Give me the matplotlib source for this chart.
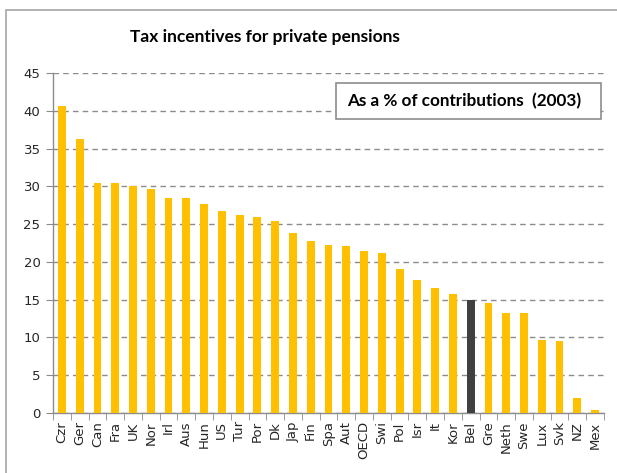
import numpy as np
import matplotlib.pyplot as plt
from matplotlib.patches import Rectangle

# Tax incentives for private pensions, as a % of contributions (2003)
countries = ["Czr", "Ger", "Can", "Fra", "UK", "Nor", "Irl", "Aus", "Hun", "US",
             "Tur", "Por", "Dk", "Jap", "Fin", "Spa", "Aut", "OECD", "Swi", "Pol",
             "Isr", "It", "Kor", "Bel", "Gre", "Neth", "Swe", "Lux", "Svk", "NZ", "Mex"]
values = [40.6, 36.2, 30.5, 30.4, 30.0, 29.6, 28.5, 28.5, 27.6, 26.7,
          26.2, 26.0, 25.4, 23.8, 22.7, 22.3, 22.1, 21.4, 21.2, 19.0,
          17.6, 16.5, 15.7, 15.0, 14.6, 13.2, 13.2, 9.7, 9.5, 2.0, 0.4]
highlight = "Bel"

yticks = np.arange(0, 50, 5)

orange = "#FFC000"
dark = "#404040"
grey = "#8C8C8C"

fig = plt.figure(figsize=(6.17, 4.73), dpi=100)
fig.patch.set_facecolor("white")

# outer chart frame (runs off the right and bottom edges)
fig.patches.append(Rectangle((6 / 617, -0.05), 1.2, 1 - 10 / 473 + 0.05,
                             transform=fig.transFigure, fill=False,
                             edgecolor="#A6A6A6", linewidth=1.2))

ax = fig.add_axes([53 / 617, 1 - 413 / 473, (604 - 53) / 617, (413 - 73) / 473])

x = np.arange(len(countries))
colors = [dark if c == highlight else orange for c in countries]
ax.bar(x, values, width=0.44, color=colors, zorder=3)

ax.set_xlim(-0.5, len(countries) - 0.5)
ax.set_ylim(0, 45)
ax.set_yticks(yticks)
ax.set_yticklabels([str(v) for v in yticks], fontsize=9.5, color="#262626")
ax.set_xticks(x)
ax.set_xticklabels(countries, rotation=90, fontsize=9.5, color="#262626")
ax.tick_params(axis="x", length=0, pad=6)
ax.tick_params(axis="y", length=5, color=grey, pad=4)

# category separator ticks on the x axis
ax.set_xticks(np.arange(-0.5, len(countries), 1), minor=True)
ax.tick_params(axis="x", which="minor", length=5, color=grey, direction="out")

ax.yaxis.grid(True, linestyle=(0, (4, 3)), color=grey, linewidth=1, zorder=0)
ax.set_axisbelow(True)

for side in ["top", "right"]:
    ax.spines[side].set_visible(False)
for side in ["left", "bottom"]:
    ax.spines[side].set_color(grey)
    ax.spines[side].set_linewidth(1)

fig.text(265 / 617, 1 - 37 / 473, "Tax incentives for private pensions",
         ha="center", va="center", fontsize=12.5, fontweight="bold",
         family="Lato", color="black")

# legend-style note box
fig.patches.append(Rectangle((336 / 617, 1 - 119 / 473), (601 - 336) / 617, 36 / 473,
                             transform=fig.transFigure, fill=True, facecolor="white",
                             edgecolor="#8C8C8C", linewidth=1.2, zorder=5))
fig.text(464 / 617, 1 - 101 / 473, "As a % of contributions  (2003)",
         ha="center", va="center", fontsize=12.3, fontweight="bold", family="Lato",
         color="black", zorder=6)

fig.savefig("out.png", dpi=100, facecolor="white")
